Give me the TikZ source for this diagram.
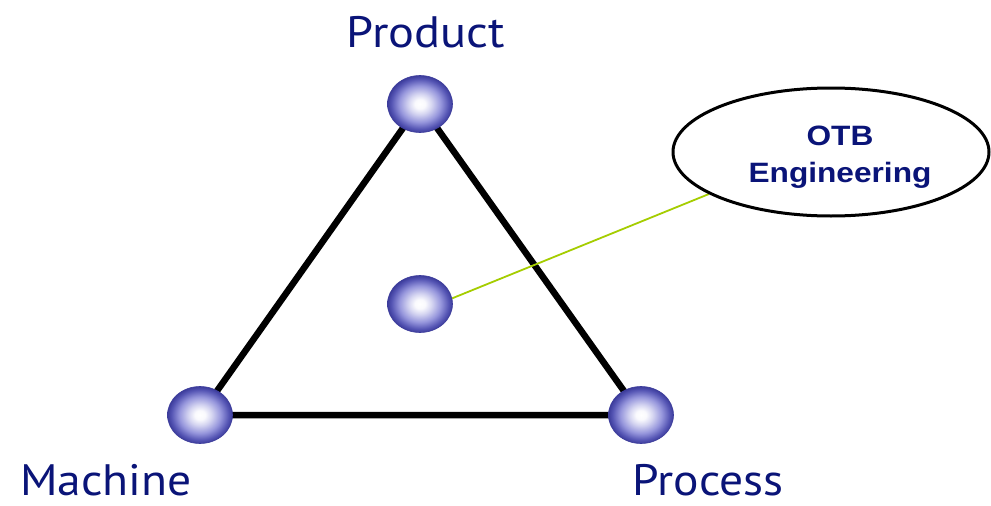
\documentclass[tikz,border=0pt]{standalone}
\usepackage{fontspec}
\setmainfont{PT Sans}
\newfontfamily\arialfont{Liberation Sans}
\usetikzlibrary{shapes.geometric,backgrounds}
\definecolor{navy}{RGB}{10,20,120}
\definecolor{sphA}{RGB}{150,150,220}
\definecolor{sphB}{RGB}{85,85,180}
\definecolor{sphC}{RGB}{60,60,155}
\definecolor{limeline}{RGB}{165,205,0}
\pgfdeclareradialshading{spherefill}{\pgfpoint{0bp}{0bp}}{color(0bp)=(white); color(4bp)=(white!95!sphA); color(9bp)=(white!60!sphA); color(16bp)=(sphA); color(22bp)=(sphB); color(25bp)=(sphC); color(50bp)=(sphC)}
\begin{document}
\begin{tikzpicture}[x=1pt,y=-1pt,
  ball/.style={ellipse, minimum width=65pt, minimum height=57pt, inner sep=0pt, shading=spherefill, draw=sphC, line width=0.6pt},
  triedge/.style={line width=6.5pt, black},
  lbl/.style={text=navy, font=\fontsize{44}{48}\selectfont, inner sep=0pt, anchor=base},
  callout/.style={ellipse, draw=black, line width=3pt, minimum width=316pt, minimum height=128pt, fill=white},
  callouttext/.style={text=navy, font=\arialfont\bfseries\fontsize{28}{37}\selectfont, inner sep=0pt, anchor=base},
  link/.style={limeline, line width=1.8pt}]
\useasboundingbox (0,0) rectangle (991,506);
\node[ball] (p) at (420,104) {};
\node[ball] (m) at (200,415) {};
\node[ball] (r) at (641,415) {};
\node[ball] (c) at (420,304) {};
\node[callout] (otb) at (831,152) {};
\node[callouttext] (t1) at (840,145) {\scalebox{1.13}[1]{OTB}};
\node[callouttext] (t2) at (840,182) {\scalebox{1.13}[1]{Engineering}};
\node[lbl] (lp) at (426,47) {\scalebox{1.1}[1]{Product}};
\node[lbl] (lm) at (106,495) {\scalebox{1.08}[1]{Machine}};
\node[lbl] (lr) at (708,495) {\scalebox{1.08}[1]{Process}};
\begin{pgfonlayer}{background}
\fill[white] (0,0) rectangle (991,506);
\draw[triedge] (p.center) -- (m.center) -- (r.center) -- cycle;
\draw[link] (c.10) -- (otb.199);
\end{pgfonlayer}
\end{tikzpicture}
\end{document}
